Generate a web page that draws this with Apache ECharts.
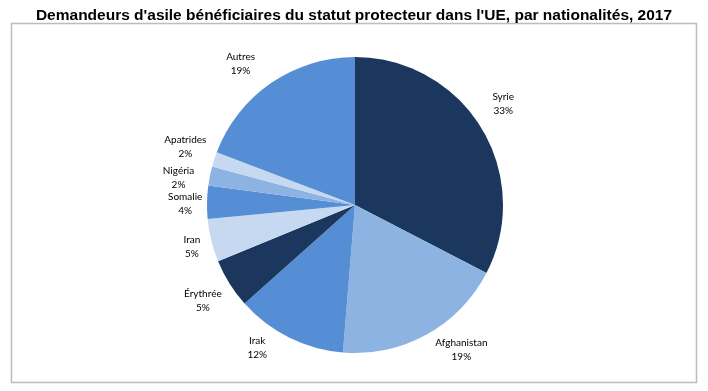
<!DOCTYPE html>
<html>
<head>
<meta charset="utf-8">
<script src="https://cdn.jsdelivr.net/npm/echarts@6/dist/echarts.min.js"></script>
<style>
html,body{margin:0;padding:0;background:#fff;}
#c{width:708px;height:391px;}
</style>
</head>
<body>
<div id="c"></div>
<script>
var categories = ['Syrie', 'Afghanistan', 'Irak', 'Érythrée', 'Iran', 'Somalie', 'Nigéria', 'Apatrides', 'Autres'];
var values = [32.6, 18.7, 12.1, 5.4, 4.7, 3.6, 2.1, 1.6, 19.2];
var titleText = "Demandeurs d'asile bénéficiaires du statut protecteur dans l'UE, par nationalités, 2017";

// styling (not data)
var colors = ['#1b375e', '#8db3e2', '#558ed5', '#1b375e', '#c6d9f1', '#558ed5', '#8db3e2', '#c6d9f1', '#558ed5'];
// Excel "best fit" label nudges relative to ECharts outside position
var labelNudge = [[3, -13], [24, -4], [-22, -9], [-8, 6], [2, 1], [0, -9], [-8, -5], [-8, -6], [-18, -1]];

var chart = echarts.init(document.getElementById('c'), null, {renderer: 'canvas'});
var data = categories.map(function (n, i) {
  return {name: n, value: values[i], itemStyle: {color: colors[i]}};
});
chart.setOption({
  animation: false,
  backgroundColor: '#fff',
  title: {
    text: titleText,
    left: 'center',
    top: 3,
    textStyle: {fontFamily: 'Liberation Sans, Arial', fontWeight: 'bold', fontSize: 15.5, color: '#000'}
  },
  graphic: [{
    type: 'rect',
    shape: {x: 11.5, y: 23.5, width: 685, height: 359},
    style: {fill: 'none', stroke: '#bdbdbd', lineWidth: 1.5},
    silent: true
  }],
  series: [{
    type: 'pie',
    center: [355, 205],
    radius: 148,
    startAngle: 90,
    clockwise: true,
    data: data,
    label: {
      show: true,
      position: 'outside',
      distanceToLabelLine: 0,
      fontFamily: 'Lato, Open Sans, sans-serif',
      fontSize: 10,
      lineHeight: 14,
      color: '#000',
      formatter: function (p) { return p.name + '\n' + Math.round(p.percent) + '%'; }
    },
    labelLine: {show: false, length: 22, length2: 0},
    labelLayout: function (p) {
      var n = labelNudge[p.dataIndex] || [0, 0];
      return {align: 'center', verticalAlign: 'middle', dx: n[0], dy: n[1]};
    },
    emphasis: {disabled: true}
  }]
});
</script>
</body>
</html>
